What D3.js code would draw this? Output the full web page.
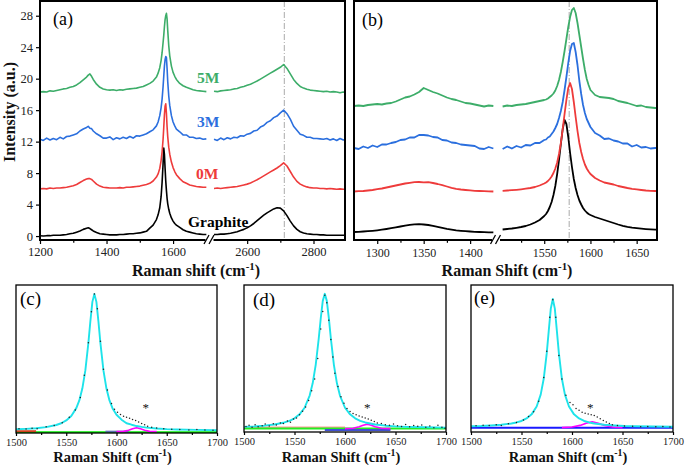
<!DOCTYPE html>
<html><head><meta charset="utf-8">
<script src="https://cdn.jsdelivr.net/npm/d3@7"></script>
<style>
body{margin:0;background:#fff}
svg{display:block}
text{font-family:"Liberation Serif","Times New Roman",serif}
</style>
</head><body>
<svg id="chart" width="685" height="465"></svg>
<script>
// ---------------- DATA ----------------
// Panel (a): Raman spectra, broken x-axis
const aLeftX = [1200,1210,1220,1230,1240,1250,1260,1270,1280,1290,1300,1310,1320,1330,1340,1345,1350,1355,1360,1370,1380,1390,1400,1410,1420,1430,1440,1450,1460,1470,1480,1490,1500,1510,1520,1530,1540,1550,1555,1560,1564,1567,1570,1572,1574,1576,1578,1580,1582,1584,1587,1590,1595,1600,1605,1610,1620,1630,1640,1650,1660,1670,1680,1690,1700];
const aGraphiteL = [0.05,0.0,0.05,0.05,0.1,0.1,0.1,0.15,0.2,0.3,0.35,0.5,0.65,0.85,1.0, 1.05,0.95,0.8,0.65, 0.45,0.3,0.25,0.2,0.15,0.15,0.15,0.2,0.2,0.25,0.3,0.3,0.35,0.4,0.5,0.6,1.0,1.4,2.1, 2.7,3.6,5.0,6.8,9.2,11.2,10.4,8.6,7.0,5.8,4.8,4.1,3.4,2.9,2.3,1.9,1.6,1.4, 1.1,0.8,0.6,0.5,0.4,0.3,0.25,0.2,0.2];
const a0ML = [6.0,6.05,6.0,6.1,6.05,6.1,6.1,6.15,6.2,6.3,6.4,6.55,6.8,7.05,7.25, 7.3,7.3,7.2,7.0, 6.6,6.35,6.2,6.15,6.1,6.1,6.1,6.15,6.1,6.2,6.2,6.25,6.3,6.35,6.45,6.55,6.7,7.0,7.5, 7.9,8.6,9.6,10.7,12.3,13.8,15.4,16.5,16.8,15.6,13.9,12.6,11.3,10.4,9.4,8.7,8.2,7.8, 7.3,6.9,6.7,6.5,6.4,6.3,6.25,6.2,6.2];
const a3ML = [12.3,12.15,12.45,12.2,12.4,12.25,12.55,12.35,12.65,12.7,12.85,13.0,13.35,13.6,13.8, 13.95,13.7,13.65,13.35, 13.0,12.75,12.45,12.45,12.6,12.25,12.5,12.35,12.55,12.4,12.65,12.45,12.75,12.7,12.85,13.0,13.25,13.5,14.0, 14.5,15.3,16.3,17.4,19.0,20.3,21.6,22.4,22.8,22.7,21.3,19.6,17.8,16.6,15.3,14.5,14.0,13.6, 13.25,12.85,12.85,12.55,12.55,12.4,12.45,12.3,12.35];
const a5ML = [18.3,18.35,18.3,18.45,18.4,18.5,18.6,18.7,18.75,18.9,19.0,19.2,19.5,19.85,20.2, 20.45,20.6,20.3,19.9, 19.3,18.9,18.7,18.6,18.55,18.6,18.5,18.6,18.55,18.65,18.7,18.75,18.8,18.9,19.0,19.2,19.4,19.7,20.2, 20.7,21.4,22.3,23.3,24.6,25.5,26.6,27.5,28.0,28.3,27.6,26.1,24.2,22.9,21.6,20.8,20.3,19.9, 19.4,19.1,18.9,18.75,18.6,18.5,18.45,18.4,18.35];

const aRightX = [2500,2510,2520,2530,2540,2550,2560,2570,2580,2590,2600,2610,2620,2630,2640,2650,2660,2670,2680,2690,2700,2710,2720,2730,2740,2750,2760,2770,2780,2790,2800,2810,2820,2830,2840,2850,2860,2870,2880,2890,2900];
const aGraphiteR = [0.2,0.2,0.25,0.25,0.3,0.35,0.45,0.55,0.7,0.85, 1.05,1.3,1.6,1.95,2.3,2.65,2.95,3.2,3.45,3.6, 3.55,3.2,2.6,1.9,1.3,0.85,0.55,0.4,0.3,0.25, 0.2,0.2,0.15,0.15,0.1,0.1,0.1,0.1,0.1,0.1, 0.1];
const a0MR = [6.05,6.1,6.05,6.1,6.15,6.2,6.25,6.3,6.4,6.5, 6.6,6.75,6.95,7.15,7.4,7.65,7.9,8.15,8.4,8.65, 8.95,9.3,8.9,8.2,7.5,6.95,6.6,6.4,6.25,6.15, 6.1,6.1,6.05,6.05,6.0,6.05,6.0,5.95,6.0,5.95, 5.95];
const a3MR = [12.3,12.15,12.45,12.25,12.5,12.35,12.55,12.5,12.75,12.7, 12.95,13.05,13.35,13.45,13.85,14.05,14.45,14.65,15.05,15.25, 15.65,16.0,15.55,14.85,13.95,13.45,12.95,12.8,12.55,12.55, 12.4,12.4,12.35,12.3,12.4,12.2,12.35,12.15,12.4,12.2, 12.3];
const a5MR = [18.4,18.35,18.45,18.5,18.55,18.6,18.7,18.75,18.9,19.0, 19.15,19.3,19.5,19.7,19.95,20.2,20.45,20.7,20.95,21.2, 21.45,21.8,21.3,20.6,19.9,19.4,19.0,18.8,18.65,18.55, 18.5,18.45,18.4,18.35,18.4,18.3,18.35,18.3,18.2,18.3, 18.25];

const aYTicks = [0,4,8,12,16,20,24,28];
const aXMajorL = [1200,1400,1600], aXMinorL = [1300,1500];
const aXMajorR = [2600,2800], aXMinorR = [2700];
const aMarker = 2712;
const seriesNames = ["Graphite","0M","3M","5M"];
const seriesColors = ["#000000","#ee3b3b","#2b6fde","#3dad69"];

// Panel (b): zoomed D / G bands
const bLeftX = [1275,1280,1285,1290,1295,1300,1305,1310,1315,1320,1325,1330,1335,1340,1345,1350,1355,1360,1365,1370,1375,1380,1385,1390,1395,1400,1405,1410,1415,1420,1425];
const bGraphiteL = [0.1,0.12,0.15,0.18,0.22,0.27,0.33,0.4,0.48,0.56,0.65,0.74,0.81,0.86,0.88,0.85,0.8,0.72,0.62,0.52,0.42,0.34,0.27,0.22,0.18,0.15,0.12,0.1,0.08,0.07,0.06];
const b0ML = [4.15,4.18,4.2,4.25,4.3,4.38,4.45,4.55,4.65,4.75,4.85,4.95,5.02,5.08,5.1,5.07,5.08,5.0,4.9,4.78,4.65,4.52,4.42,4.35,4.3,4.26,4.22,4.2,4.18,4.17,4.15];
const b3ML = [8.5,8.4,8.65,8.5,8.75,8.6,8.85,8.85,9.0,9.1,9.3,9.35,9.55,9.55,9.8,9.8,9.75,9.6,9.55,9.3,9.25,9.05,9.0,8.85,8.8,8.75,8.7,8.45,8.4,8.6,8.45];
const b5ML = [12.7,12.75,12.7,12.8,12.85,12.9,12.85,12.95,13.0,13.15,13.35,13.55,13.65,13.85,14.1,14.5,14.3,14.1,13.95,13.75,13.55,13.4,13.3,13.15,13.0,12.95,12.85,12.75,12.65,12.75,12.7];

const bRightX = [1500,1505,1510,1515,1520,1525,1530,1535,1540,1545,1550, 1552,1554,1556,1558,1560,1562,1564,1566,1568,1570,1572,1574,1576,1578,1580,1582,1584,1586,1588,1590,1592,1594,1596,1598,1600, 1605,1610,1615,1620,1625,1630,1635,1640,1645,1650,1655,1660,1665,1670, 1675];
const bGraphiteR = [0.3,0.35,0.4,0.45,0.52,0.6,0.7,0.85,1.05,1.3,1.7, 1.9,2.2,2.6,3.1,3.8,4.7,5.9,7.3,8.9,10.4,11.3,10.9,9.6,8.0,6.6,5.4,4.5,3.8,3.25,2.85,2.5,2.25,2.05,1.9,1.8, 1.6,1.45,1.3,1.15,1.0,0.85,0.72,0.62,0.54,0.48,0.43,0.39,0.36,0.34, 0.33];
const b0MR = [4.2,4.22,4.25,4.28,4.32,4.37,4.43,4.5,4.6,4.75,4.95, 5.05,5.2,5.4,5.65,6.0,6.45,7.05,7.9,9.0,10.4,11.9,13.3,14.5,15.0,14.4,13.1,11.6,10.2,9.0,8.1,7.4,6.85,6.45,6.15,5.9, 5.5,5.25,5.05,4.95,4.85,4.7,4.6,4.5,4.42,4.36,4.3,4.25,4.22,4.2, 4.2];
const b3MR = [8.5,8.4,8.65,8.45,8.7,8.55,8.8,8.75,9.0,9.0,9.3, 9.35,9.55,9.65,9.9,10.15,10.5,10.9,11.5,12.2,13.1,14.3,15.6,17.0,18.2,18.9,19.0,18.1,16.8,15.2,13.9,12.8,12.0,11.4,11.0,10.6, 10.0,9.75,9.4,9.45,9.25,9.15,8.95,8.95,8.65,8.8,8.55,8.6,8.45,8.5, 8.5];
const b5MR = [12.7,12.65,12.75,12.7,12.8,12.85,12.9,13.0,13.1,13.2,13.3, 13.35,13.45,13.6,13.75,13.95,14.25,14.7,15.3,16.1,17.1,18.2,19.4,20.6,21.6,22.3,22.5,22.0,21.0,19.8,18.6,17.4,16.3,15.4,14.8,14.3, 13.8,13.6,13.55,13.5,13.4,13.2,13.1,13.0,12.85,12.7,12.75,12.6,12.55,12.5, 12.5];
const bXMajorL = [1300,1350,1400], bXMinorL = [1325,1375];
const bXMajorR = [1550,1600,1650], bXMinorR = [1525,1575,1625];
const bMarker = 1577;

// Panels (c), (d), (e): G-band fits
const fitXMajor = [1500,1550,1600,1650,1700], fitXMinor = [1525,1575,1625,1675];
const cFitX = [1500,1510,1520,1530,1540,1545,1550,1555,1560,1563,1566,1569,1572,1574,1576,1578,1580,1582,1584,1587,1590,1593,1596,1600,1605,1610,1615,1620,1625,1630,1640,1650,1660,1680,1700];
const cFitY = [2.5,2.8,3.2,4.0,5.4,6.6,8.5,11.5,16.8,22,30,42.3,60.7,75.5,88.6,94,88.6,75.5,60.7,42.3,30,22,16.8,12.3,9.0,6.6,5.6,4.7,4.1,3.6,3.0,2.6,2.4,2.1,1.9];
const dFitX = [1500,1510,1520,1530,1540,1545,1550,1555,1560,1565,1568,1571,1574,1576,1578,1580,1582,1584,1586,1589,1592,1595,1600,1605,1610,1615,1620,1630,1640,1650,1660,1680,1700];
const dFitY = [3.5,3.8,4.3,5.1,6.5,7.6,9.3,12.0,16.5,24.8,33.1,45.7,63.6,77.4,89.2,94,89.2,77.4,63.6,45.7,33.1,24.8,16.5,12.0,9.3,7.6,6.5,5.1,4.3,3.8,3.5,3.2,3.0];
const eFitX = [1500,1510,1520,1530,1540,1545,1550,1555,1560,1565,1569,1572,1575,1577,1579,1581,1583,1585,1587,1590,1593,1597,1602,1607,1612,1617,1622,1632,1642,1652,1662,1680,1700];
const eFitY = [3.95,4.1,4.45,4.9,5.8,6.5,7.5,9.2,12.0,17.3,25.4,36.2,53.6,69.0,83.9,90.5,83.9,69.0,53.6,36.2,25.4,17.3,12.0,9.2,7.5,6.5,5.8,4.9,4.45,4.1,3.95,3.7,3.6];

const cSubX = [1600,1607,1612,1616,1620,1624,1628,1633,1640];
const cSubY = [0.9,1.1,1.8,2.8,3.6,2.8,1.8,1.1,0.9];
const dSubX = [1600,1608,1614,1618,1622,1626,1630,1636,1645];
const dSubY = [2.3,2.6,3.6,4.6,5.3,4.6,3.6,2.6,2.3];
const eSubX = [1590,1600,1608,1614,1620,1626,1632,1640,1650];
const eSubY = [3.0,3.4,4.5,6.0,7.0,6.0,4.5,3.4,3.0];

const cDotX = [1503,1510,1516,1521,1530,1538,1546,1553,1559,1564,1568,1572,1575,1578,1581,1584,1587,1591,1595,1598,1601,1604,1607,1610,1613,1616,1619,1622,1625,1628,1631,1635,1640,1647,1655,1663,1672,1680,1688,1696];
const cDotY = [2.8,2.7,3.2,2.9,4.2,5.0,7.0,10.6,15.5,24,39,61,82,94,84,62,43,29,20,16,14,12.5,11.4,10.6,10,9.2,8.4,7.5,6.5,5.5,4.6,3.9,3.4,2.9,2.6,2.4,2.1,2.3,2.0,1.9];
const dDotX = [1502,1505,1508,1511,1514,1518,1521,1525,1529,1532,1536,1539,1543,1546,1549,1552,1555,1558,1561,1564,1567,1570,1573,1576,1578,1580,1582,1584,1586,1588,1590,1593,1596,1599,1602,1605,1608,1611,1614,1617,1620,1623,1626,1629,1632,1636,1640,1644,1648,1652,1656,1660,1664,1668,1672,1676,1680,1684,1688,1692,1696,1699];
const dDotY = [3.8,4.6,3.2,4.9,3.6,4.2,5.4,4.0,5.6,4.8,6.2,5.7,7.4,6.6,8.8,9.5,11.8,14.2,17,21.5,28,36,50,70,82,93,88,76,63,51,40,31,24,19.5,16,14,12.6,11.8,10.8,10.2,9.6,8.8,8.0,7.1,6.2,5.8,5.0,4.6,5.5,4.2,3.8,5.1,3.5,4.4,3.9,4.8,3.3,4.1,2.9,4.6,3.2,2.6];
const eDotX = [1505,1512,1518,1525,1530,1537,1545,1552,1557,1562,1567,1572,1575,1578,1581,1584,1587,1590,1594,1598,1601,1604,1607,1610,1613,1616,1619,1622,1625,1628,1631,1634,1637,1640,1645,1652,1660,1668,1675,1683,1690,1697];
const eDotY = [4.3,4.6,4.4,4.9,4.5,5.6,6.4,8.2,10.5,13.8,21,37,55,78,90,78,52,36,25,20,18.5,16,14.8,13.5,12.8,12.2,11.8,11.2,10.2,9,7.8,6.8,5.8,5.0,4.4,4.0,3.9,3.6,3.8,3.5,3.7,3.4];

// baseline components of the fits: [x0, x1, value]
const cBase = [[1500,1700,0.5],[1500,1520,1.2],[1589,1612,0.9]];
const dBase = [[1500,1600,3.0],[1500,1700,2.3],[1580,1645,1.3]];
const eBase = [[1500,1700,2.9]];
const cBaseColors = ["#00ee00","#d0401c","#5a6fb0"];
const dBaseColors = ["#ff9a9a","#22ee22","#4050d0"];
const eBaseColors = ["#1a1aff"];
const starPos = [[1629,17.6],[1622,17.2],[1618,17.0]];

// ---------------- DRAW ----------------
const svg = d3.select("#chart");
const pairs = (xs, ys) => xs.map((x,i)=>[x, ys[i]]);
const FONT = '"Liberation Serif","Times New Roman",serif';

function clip(id, x0, y0, x1, y1){
  svg.append("clipPath").attr("id", id).append("rect")
    .attr("x", x0).attr("y", y0).attr("width", x1-x0).attr("height", y1-y0);
}
function drawLine(g, data, sx, sy, color, w, clipId){
  g.append("path").datum(data)
   .attr("fill","none").attr("stroke",color).attr("stroke-width",w)
   .attr("stroke-linejoin","round")
   .attr("clip-path", clipId ? `url(#${clipId})` : null)
   .attr("d", d3.line().x(d=>sx(d[0])).y(d=>sy(d[1])));
}
function styleAxis(g, fs){
  g.select(".domain").remove();
  g.selectAll(".tick line").attr("stroke","#000").attr("stroke-width",1.2);
  g.selectAll(".tick text").attr("font-family",FONT).attr("font-size",fs).attr("fill","#222");
}
function bottomAxis(sx, y, major, minor, fs, len, pad){
  const g1 = svg.append("g").attr("transform",`translate(0,${y})`)
    .call(d3.axisBottom(sx).tickValues(major).tickSize(len).tickPadding(pad).tickFormat(d3.format("d")));
  styleAxis(g1, fs);
  const g2 = svg.append("g").attr("transform",`translate(0,${y})`)
    .call(d3.axisBottom(sx).tickValues(minor).tickSize(len*0.7).tickFormat(""));
  styleAxis(g2, fs);
}
function xLabel(x, y, main, fs){
  const t = svg.append("text").attr("x",x).attr("y",y).attr("text-anchor","middle")
    .attr("font-family",FONT).attr("font-weight","bold").attr("font-size",fs).attr("fill","#111");
  t.append("tspan").text(main + " (cm");
  t.append("tspan").attr("dy",-fs*0.38).attr("font-size",fs*0.68).text("-1");
  t.append("tspan").attr("dy",fs*0.38).text(")");
}
function breakMark(x, y){
  svg.append("rect").attr("x",x-4).attr("y",y-3).attr("width",8).attr("height",6).attr("fill","#fff");
  [-2.5, 2.5].forEach(o=>{
    svg.append("line").attr("x1",x+o-3).attr("y1",y+4).attr("x2",x+o+2).attr("y2",y-5)
      .attr("stroke","#000").attr("stroke-width",1.3);
  });
}

// ----- Panel (a)
const aL = 40, aR = 345, aT = 1, aB = 240;
const xA1 = d3.scaleLinear().domain([1200,1705]).range([aL,208]);
const xA2 = d3.scaleLinear().domain([2500,2895]).range([214,aR]);
const yA = d3.scaleLinear().domain([-0.5,29.87]).range([aB,aT]);
clip("clipA", aL, aT, aR, aB);
const gA = svg.append("g");
gA.append("line").attr("x1",xA2(aMarker)).attr("x2",xA2(aMarker)).attr("y1",aT).attr("y2",aB)
  .attr("stroke","#aaa").attr("stroke-width",1).attr("stroke-dasharray","6,2,1,2");
const aLeft = [aGraphiteL, a0ML, a3ML, a5ML], aRight = [aGraphiteR, a0MR, a3MR, a5MR];
aLeft.forEach((ys,i)=> drawLine(gA, pairs(aLeftX, ys), xA1, yA, seriesColors[i], 1.6, "clipA"));
aRight.forEach((ys,i)=> drawLine(gA, pairs(aRightX, ys), xA2, yA, seriesColors[i], 1.6, "clipA"));
svg.append("rect").attr("x",aL).attr("y",aT).attr("width",aR-aL).attr("height",aB-aT)
  .attr("fill","none").attr("stroke","#000").attr("stroke-width",2);
bottomAxis(xA1, aB, aXMajorL, aXMinorL, 12.5, 4, 3);
bottomAxis(xA2, aB, aXMajorR, aXMinorR, 12.5, 4, 3);
const gAy = svg.append("g").attr("transform",`translate(${aL},0)`)
  .call(d3.axisLeft(yA).tickValues(aYTicks).tickSize(4).tickPadding(3));
styleAxis(gAy, 12.5);
breakMark(209.5, aB);
svg.append("text").attr("transform","translate(15,112) rotate(-90)").attr("text-anchor","middle")
  .attr("font-family",FONT).attr("font-weight","bold").attr("font-size",16).attr("fill","#111")
  .text("Intensity (a.u.)");
xLabel(196, 276, "Raman shift", 16);
svg.append("text").attr("x",53).attr("y",25).attr("font-family",FONT).attr("font-size",18).text("(a)");
const labelPos = [[188,227],[196,179],[197,127],[197,83]];
seriesNames.forEach((n,i)=>{
  svg.append("text").attr("x",labelPos[i][0]).attr("y",labelPos[i][1])
    .attr("font-family",FONT).attr("font-weight","bold").attr("font-size",15.5)
    .attr("fill",seriesColors[i]).text(n);
});

// ----- Panel (b)
const bL = 354, bR = 657, bT = 1, bB = 240;
const xB1 = d3.scaleLinear().domain([1275,1430]).range([bL,498]);
const xB2 = d3.scaleLinear().domain([1500,1672]).range([498,bR]);
const yB = d3.scaleLinear().domain([-0.7,23.2]).range([bB,bT]);
clip("clipB", bL, bT, bR, bB);
const gB = svg.append("g");
gB.append("line").attr("x1",xB2(bMarker)).attr("x2",xB2(bMarker)).attr("y1",bT).attr("y2",bB)
  .attr("stroke","#aaa").attr("stroke-width",1).attr("stroke-dasharray","6,2,1,2");
const bLeft = [bGraphiteL, b0ML, b3ML, b5ML], bRight = [bGraphiteR, b0MR, b3MR, b5MR];
bLeft.forEach((ys,i)=> drawLine(gB, pairs(bLeftX, ys), xB1, yB, seriesColors[i], 1.8, "clipB"));
bRight.forEach((ys,i)=> drawLine(gB, pairs(bRightX, ys).filter(d=>d[0]>=1501), xB2, yB, seriesColors[i], 1.8, "clipB"));
svg.append("rect").attr("x",bL).attr("y",bT).attr("width",bR-bL).attr("height",bB-bT)
  .attr("fill","none").attr("stroke","#000").attr("stroke-width",2);
bottomAxis(xB1, bB, bXMajorL, bXMinorL, 12, 4, 4);
bottomAxis(xB2, bB, bXMajorR, bXMinorR, 12, 4, 4);
breakMark(496, bB);
xLabel(507, 276, "Raman Shift", 16);
svg.append("text").attr("x",362).attr("y",26).attr("font-family",FONT).attr("font-size",18).text("(b)");

// ----- Fit panels
const fits = [
  {id:"c", l:16, r:217, t:285, b:433, fx:cFitX, fy:cFitY, sx:cSubX, sy:cSubY, dx:cDotX, dy:cDotY, base:cBase, bc:cBaseColors, lab:[20,305]},
  {id:"d", l:244, r:446, t:285, b:432, fx:dFitX, fy:dFitY, sx:dSubX, sy:dSubY, dx:dDotX, dy:dDotY, base:dBase, bc:dBaseColors, lab:[253,306]},
  {id:"e", l:471, r:673, t:285, b:432, fx:eFitX, fy:eFitY, sx:eSubX, sy:eSubY, dx:eDotX, dy:eDotY, base:eBase, bc:eBaseColors, lab:[474,304]}
];
fits.forEach((p,k)=>{
  const x = d3.scaleLinear().domain([1500,1700]).range([p.l,p.r]);
  const y = d3.scaleLinear().domain([0,100]).range([p.b,p.t]);
  const cid = "clip"+p.id;
  clip(cid, p.l, p.t, p.r, p.b);
  const g = svg.append("g");
  p.base.forEach((b,i)=>{
    g.append("line").attr("x1",x(b[0])).attr("x2",x(b[1])).attr("y1",y(b[2])).attr("y2",y(b[2]))
      .attr("stroke",p.bc[i]).attr("stroke-width",2).attr("clip-path",`url(#${cid})`);
  });
  drawLine(g, pairs(p.sx, p.sy), x, y, "#ff00ff", 1.6, cid);
  drawLine(g, pairs(p.fx, p.fy), x, y, "#1ee3ea", 1.9, cid);
  g.selectAll("circle.dot").data(pairs(p.dx, p.dy)).enter().append("circle")
    .attr("cx",d=>x(d[0])).attr("cy",d=>y(d[1])).attr("r",0.75).attr("fill","#222");
  svg.append("rect").attr("x",p.l).attr("y",p.t).attr("width",p.r-p.l).attr("height",p.b-p.t)
    .attr("fill","none").attr("stroke","#000").attr("stroke-width",1.3);
  bottomAxis(x, p.b, fitXMajor, fitXMinor, 10.5, 3, 3);
  xLabel((p.l+p.r)/2 - 4, 462, "Raman Shift", 14.5);
  svg.append("text").attr("x",p.lab[0]).attr("y",p.lab[1]).attr("font-family",FONT).attr("font-size",19).text(`(${p.id})`);
  svg.append("text").attr("x",x(starPos[k][0])).attr("y",y(starPos[k][1])+5).attr("text-anchor","middle")
    .attr("font-family",FONT).attr("font-size",13).attr("fill","#111").text("*");
});
</script>
</body></html>
